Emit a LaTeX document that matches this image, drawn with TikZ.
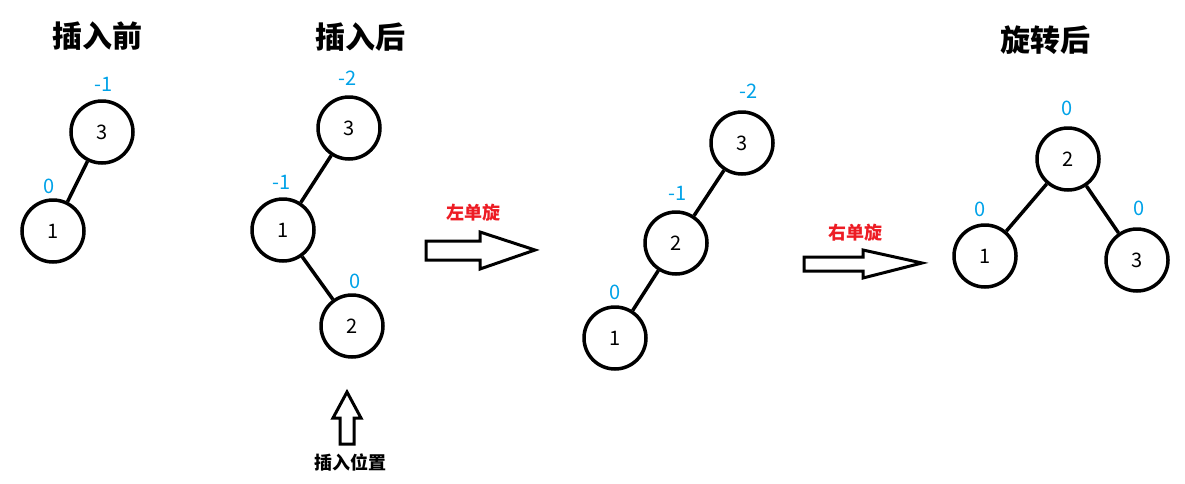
\documentclass[tikz,border=0pt]{standalone}
\usepackage{fontspec}
\setmainfont{Noto Sans CJK SC}
\usepackage{xcolor}
\definecolor{bfblue}{RGB}{0,162,232}
\definecolor{rotred}{RGB}{237,28,36}
\usetikzlibrary{positioning}

\tikzset{
  treenode/.style={circle, draw=black, line width=3.5pt, minimum size=62pt, inner sep=0pt, font=\fontsize{20}{21}\selectfont},
  treeedge/.style={line width=3.5pt},
  bf/.style={text=bfblue, font=\fontsize{20}{21}\selectfont},
  title/.style={font=\fontsize{30}{32}\selectfont\bfseries},
  rotlabel/.style={text=rotred, font=\fontsize{18}{19}\selectfont\bfseries},
  blockarrow/.style={draw=black, line width=3pt, fill=white, line join=miter},
}

\begin{document}
\begin{tikzpicture}[x=1pt, y=-1pt]
  \useasboundingbox (0,0) rectangle (1185,483);

  % Before insertion
  \node[title] (t1) at (97,36) {插入前};
  \node[treenode] (a3) at (102,132) {3};
  \node[treenode] (a1) at (53,231) {1};
  \draw[treeedge] (a3) -- (a1);
  \node[bf] (ba3) at (104,84) {-1};
  \node[bf] (ba1) at (49,186) {0};

  % After insertion
  \node[title] (t2) at (360,37) {插入后};
  \node[treenode] (b3) at (349,128) {3};
  \node[treenode] (b1) at (283,230) {1};
  \node[treenode] (b2) at (352,326) {2};
  \draw[treeedge] (b3) -- (b1);
  \draw[treeedge] (b1) -- (b2);
  \node[bf] (bb3) at (348,78) {-2};
  \node[bf] (bb1) at (282,182) {-1};
  \node[bf] (bb2) at (355,281) {0};

  % Insert position
  \draw[blockarrow] (347,392) -- (361,418) -- (354,418) -- (354,444) -- (340,444) -- (340,418) -- (333,418) -- cycle;
  \node[font=\fontsize{18}{19}\selectfont\bfseries] (pos) at (350,462) {插入位置};

  % Left rotation
  \node[rotlabel] (l1) at (473,213) {左单旋};
  \draw[blockarrow] (426,241) -- (480,241) -- (480,232) -- (535,250) -- (480,269) -- (480,260) -- (426,260) -- cycle;

  % After left rotation
  \node[treenode] (c3) at (742,143) {3};
  \node[treenode] (c2) at (676,243) {2};
  \node[treenode] (c1) at (615,338) {1};
  \draw[treeedge] (c3) -- (c2);
  \draw[treeedge] (c2) -- (c1);
  \node[bf] (bc3) at (749,91) {-2};
  \node[bf] (bc2) at (678,193) {-1};
  \node[bf] (bc1) at (615,292) {0};

  % Right rotation
  \node[rotlabel] (r1) at (855,233) {右单旋};
  \draw[blockarrow] (804,257) -- (863,257) -- (863,250) -- (922,263) -- (863,278) -- (863,271) -- (804,271) -- cycle;

  % After rotation
  \node[title] (t3) at (1045,40) {旋转后};
  \node[treenode] (d2) at (1068,159) {2};
  \node[treenode] (d1) at (985,256) {1};
  \node[treenode] (d3) at (1137,260) {3};
  \draw[treeedge] (d2) -- (d1);
  \draw[treeedge] (d2) -- (d3);
  \node[bf] (bd2) at (1067,108) {0};
  \node[bf] (bd1) at (980,209) {0};
  \node[bf] (bd3) at (1139,208) {0};
\end{tikzpicture}
\end{document}
